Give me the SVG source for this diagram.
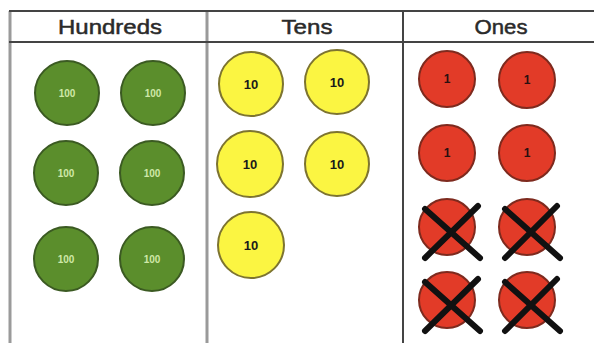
<svg xmlns="http://www.w3.org/2000/svg" width="594" height="343" viewBox="0 0 594 343">
<style>
.hdr{font-family:"Liberation Sans",Arial,sans-serif;font-size:21px;fill:#2a2a2a;text-anchor:middle;stroke:#2a2a2a;stroke-width:0.5}
.grid{stroke:#9a9a9a;stroke-width:3;fill:none}
.hline{stroke:#444;stroke-width:2;fill:none}
.g{fill:#5b8e2c;stroke:#3b5a22;stroke-width:2}
.y{fill:#fbf542;stroke:#7d7430;stroke-width:2}
.r{fill:#e23b28;stroke:#7e2a1e;stroke-width:2}
.gt{font-family:"Liberation Sans",Arial,sans-serif;font-size:10px;font-weight:bold;fill:#cfe8a8;text-anchor:middle}
.yt{font-family:"Liberation Sans",Arial,sans-serif;font-size:13px;font-weight:bold;fill:#1a1a1a;text-anchor:middle}
.rt{font-family:"Liberation Sans",Arial,sans-serif;font-size:12px;font-weight:bold;fill:#2a1010;text-anchor:middle}
.x{stroke:#111;stroke-width:6;stroke-linecap:round}
</style>
<rect width="594" height="343" fill="#ffffff"/>
<g id="table">
<line class="grid" x1="10" y1="11" x2="10" y2="343"/>
<line class="grid" x1="207" y1="11" x2="207" y2="343"/>
<line class="hline" x1="403" y1="11" x2="403" y2="343"/>
<line class="hline" x1="9" y1="11" x2="594" y2="11"/>
<line class="hline" x1="9" y1="42" x2="594" y2="42"/>
<text class="hdr" x="110" y="34" textLength="104" lengthAdjust="spacingAndGlyphs">Hundreds</text>
<text class="hdr" x="307" y="34" textLength="51" lengthAdjust="spacingAndGlyphs">Tens</text>
<text class="hdr" x="501" y="34" textLength="53" lengthAdjust="spacingAndGlyphs">Ones</text>
</g>
<g id="hundreds">
<g id="h1"><circle class="g" cx="67" cy="93" r="32"/><text class="gt" x="67" y="97">100</text></g>
<g id="h2"><circle class="g" cx="153" cy="93" r="32"/><text class="gt" x="153" y="97">100</text></g>
<g id="h3"><circle class="g" cx="66" cy="173" r="32"/><text class="gt" x="66" y="177">100</text></g>
<g id="h4"><circle class="g" cx="152" cy="173" r="32"/><text class="gt" x="152" y="177">100</text></g>
<g id="h5"><circle class="g" cx="66" cy="259" r="32"/><text class="gt" x="66" y="263">100</text></g>
<g id="h6"><circle class="g" cx="152" cy="259" r="32"/><text class="gt" x="152" y="263">100</text></g>
</g>
<g id="tens">
<g id="t1"><circle class="y" cx="251" cy="84" r="32"/><text class="yt" x="251" y="89">10</text></g>
<g id="t2"><circle class="y" cx="337" cy="82" r="32"/><text class="yt" x="337" y="87">10</text></g>
<g id="t3"><circle class="y" cx="250" cy="164" r="33"/><text class="yt" x="250" y="169">10</text></g>
<g id="t4"><circle class="y" cx="337" cy="164" r="32"/><text class="yt" x="337" y="169">10</text></g>
<g id="t5"><circle class="y" cx="251" cy="245" r="33"/><text class="yt" x="251" y="250">10</text></g>
</g>
<g id="ones">
<g id="o1"><circle class="r" cx="447" cy="79" r="28"/><text class="rt" x="447" y="83">1</text></g>
<g id="o2"><circle class="r" cx="527" cy="80" r="28"/><text class="rt" x="527" y="84">1</text></g>
<g id="o3"><circle class="r" cx="447" cy="153" r="28"/><text class="rt" x="447" y="157">1</text></g>
<g id="o4"><circle class="r" cx="527" cy="153" r="28"/><text class="rt" x="527" y="157">1</text></g>
<g id="o5"><circle class="r" cx="447" cy="227" r="28"/><line class="x" x1="425" y1="209" x2="480" y2="258"/><line class="x" x1="478" y1="206" x2="425" y2="258"/></g>
<g id="o6"><circle class="r" cx="527" cy="227" r="28"/><line class="x" x1="505" y1="209" x2="560" y2="258"/><line class="x" x1="557" y1="206" x2="505" y2="258"/></g>
<g id="o7"><circle class="r" cx="447" cy="300" r="28"/><line class="x" x1="425" y1="282" x2="480" y2="331"/><line class="x" x1="478" y1="279" x2="425" y2="331"/></g>
<g id="o8"><circle class="r" cx="527" cy="300" r="28"/><line class="x" x1="505" y1="282" x2="560" y2="331"/><line class="x" x1="557" y1="279" x2="505" y2="331"/></g>
</g>
</svg>
